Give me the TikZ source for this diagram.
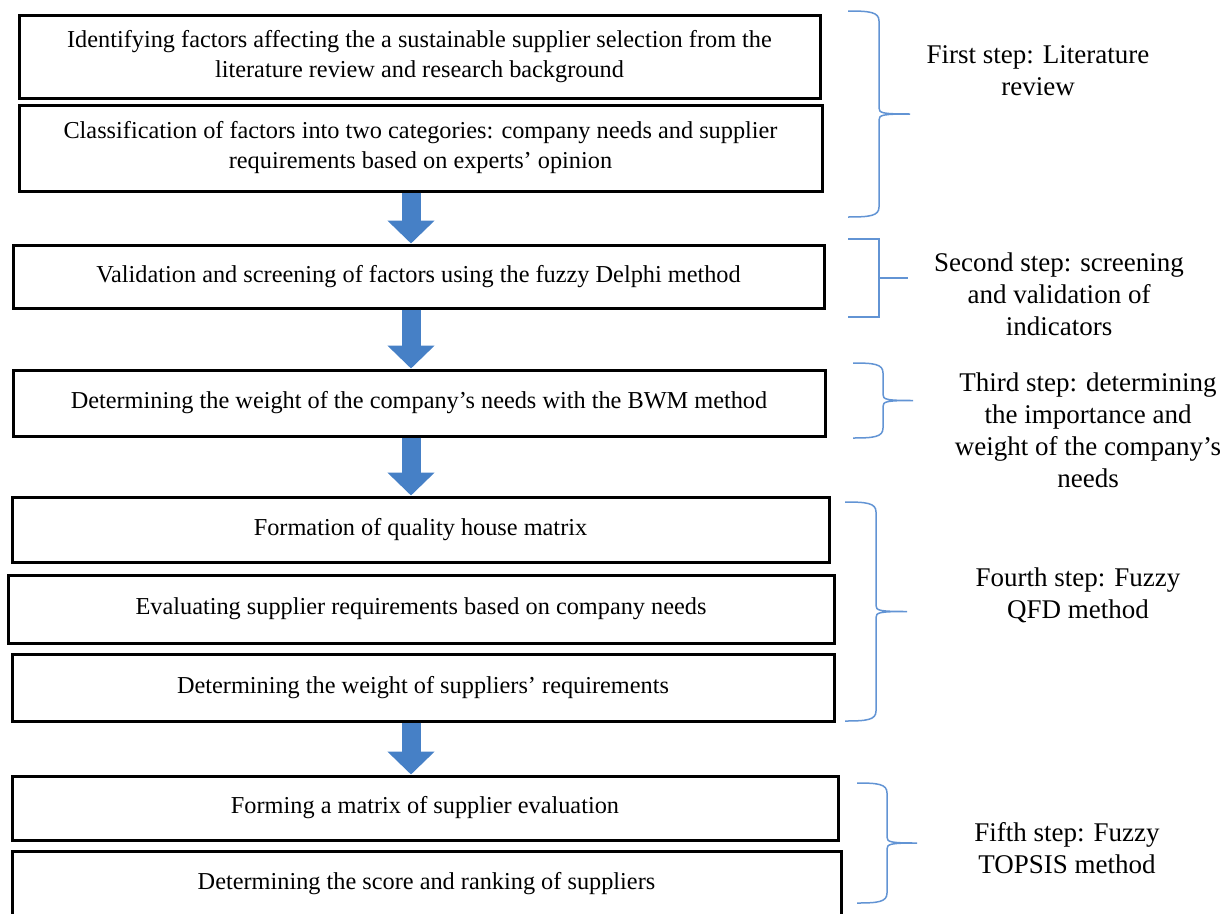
\documentclass[tikz,border=0pt]{standalone}
\usepackage{fontspec}
\setmainfont{Liberation Serif}
\usetikzlibrary{arrows.meta}
\definecolor{arrowblue}{RGB}{70,128,198}
\definecolor{braceblue}{RGB}{98,148,212}

% brace in the style of a word processor: #1 x of ends, #2 top y, #3 bottom y, #4 depth
\newcommand{\stepbrace}[4]{%
  \draw[bline] (#1,#2) .. controls ({#1+#4*0.7},#2) and ({#1+#4},{#2+1}) .. ({#1+#4},{#2+10})
    -- ({#1+#4},{(#2+#3)/2-6}) .. controls ({#1+#4},{(#2+#3)/2-1}) and ({#1+#4+3},{(#2+#3)/2}) .. ({#1+2*#4},{(#2+#3)/2})
    .. controls ({#1+#4+3},{(#2+#3)/2}) and ({#1+#4},{(#2+#3)/2+1}) .. ({#1+#4},{(#2+#3)/2+6})
    -- ({#1+#4},{#3-10}) .. controls ({#1+#4},{#3-1}) and ({#1+#4*0.7},#3) .. (#1,#3);}

\begin{document}
\begin{tikzpicture}[
    x=1pt, y=-1pt,
    stepbox/.style={rectangle, draw, line width=3pt, align=center, inner sep=0pt, font=\fontsize{24.3}{30}\selectfont},
    flow/.style={line width=19pt, arrowblue, -{Triangle[width=46pt, length=23pt]}},
    bline/.style={braceblue, line width=1.5pt},
    steplabel/.style={align=center, font=\fontsize{27}{32}\selectfont}
]
    \useasboundingbox (0,0) rectangle (1220,913);

    % Boxes
    \node[stepbox, minimum width=801pt, minimum height=83pt] (ident) at (419.5,56.5) {Identifying factors affecting the a sustainable supplier selection from the\\literature review and research background};
    \node[stepbox, minimum width=803pt, minimum height=86pt] (classif) at (420.5,148) {Classification of factors into two categories: company needs and supplier\\requirements based on experts' opinion};
    \node[stepbox, minimum width=811pt, minimum height=63pt] (delphi) at (418.5,276.5) {Validation and screening of factors using the fuzzy Delphi method};
    \node[stepbox, minimum width=812pt, minimum height=66pt] (bwm) at (419,403) {Determining the weight of the company's needs with the BWM method};
    \node[stepbox, minimum width=817pt, minimum height=65pt] (house) at (420.5,529.5) {Formation of quality house matrix};
    \node[stepbox, minimum width=826pt, minimum height=68pt] (evalreq) at (421,609) {Evaluating supplier requirements based on company needs};
    \node[stepbox, minimum width=822pt, minimum height=67pt] (reqweight) at (423,687.5) {Determining the weight of suppliers' requirements};
    \node[stepbox, minimum width=826pt, minimum height=64pt] (evalmat) at (425,808) {Forming a matrix of supplier evaluation};
    \node[stepbox, minimum width=829pt, minimum height=65pt] (ranking) at (426.5,883.5) {Determining the score and ranking of suppliers};

    % Arrows
    \coordinate (axis) at (411,0);
    \draw[flow] (classif.south -| axis) -- (delphi.north -| axis);
    \draw[flow] (delphi.south -| axis) -- (bwm.north -| axis);
    \draw[flow] (bwm.south -| axis) -- (house.north -| axis);
    \draw[flow] (reqweight.south -| axis) -- (evalmat.north -| axis);

    % Braces
    \stepbrace{848}{11}{217}{31}
    \coordinate (br2a) at (848,239);  \coordinate (br2b) at (848,317);
    \coordinate (br2m) at (879,278);
    \draw[bline] (br2a) -| (br2m) |- (br2b);
    \draw[bline] (br2m) -- ++(29,0);
    \stepbrace{853}{363}{438}{30}
    \stepbrace{845}{502}{721}{31}
    \stepbrace{857}{783}{903}{30}

    % Labels
    \node[steplabel] (first) at (1038,71) {First step: Literature\\review};
    \node[steplabel] (second) at (1059,294) {Second step: screening\\and validation of\\indicators};
    \node[steplabel] (third) at (1088,430) {Third step: determining\\the importance and\\weight of the company's\\needs};
    \node[steplabel] (fourth) at (1078,595) {Fourth step: Fuzzy\\QFD method};
    \node[steplabel] (fifth) at (1067,848) {Fifth step: Fuzzy\\TOPSIS method};

\end{tikzpicture}
\end{document}
